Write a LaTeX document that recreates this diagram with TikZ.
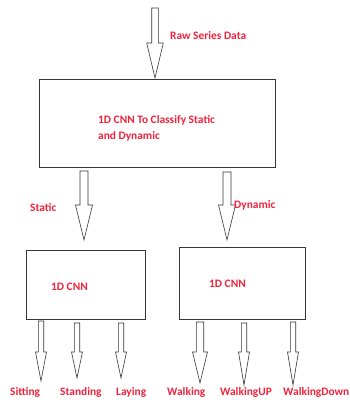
\documentclass[tikz,border=0pt]{standalone}
\usepackage{fontspec}
\setmainfont{Carlito}
\definecolor{lbl}{RGB}{240,35,60}
\definecolor{edge}{RGB}{55,55,55}
\tikzset{
  boxnode/.style={draw=edge, line width=0.9pt, fill=white},
  lbltext/.style={text=lbl, font=\bfseries\fontsize{11.4}{14}\selectfont, inner sep=0pt},
  blockarr/.style={draw=edge, line width=0.6pt, fill=white, line join=miter}
}
% \barrow{cx}{ytop}{yhead}{ytip}{shaft half}{head half}
\newcommand{\barrow}[6]{%
  \draw[blockarr] (#1-#5,#2) -- (#1+#5,#2) -- (#1+#5,#3) -- (#1+#6,#3) -- (#1,#4)
    -- (#1-#6,#3) -- (#1-#5,#3) -- cycle;}
\begin{document}
\begin{tikzpicture}[x=1pt,y=-1pt]
\useasboundingbox (0,0) rectangle (349,400);
% boxes
\draw[boxnode] (39,79) rectangle (275,167);
\draw[boxnode] (26.5,250) rectangle (145,319);
\draw[boxnode] (179,247) rectangle (305,319);
% arrows
\barrow{155}{8}{43}{78}{3.3}{8.3}
\barrow{84}{171}{205}{240}{4}{8.5}
\barrow{227}{172}{205}{240}{4}{8.5}
\barrow{41}{321}{352}{381}{2.7}{5.5}
\barrow{77}{323}{352}{378}{2.7}{5.5}
\barrow{121}{323}{352}{378}{2.7}{5.5}
\barrow{200}{322}{352}{383}{3.7}{7.5}
\barrow{244}{323}{352}{385}{2.7}{5.5}
\barrow{293}{322}{352}{385}{2.7}{5.5}
% labels
\node[lbltext, anchor=west] (raw) at (170,36) {Raw Series Data};
\node[lbltext, anchor=west, align=left] (cls) at (98,128.5) {1D CNN To Classify Static\\[2pt]and Dynamic};
\node[lbltext, anchor=west] (st) at (30,208) {Static};
\node[lbltext, anchor=west] (dy) at (234,205) {Dynamic};
\node[lbltext, anchor=west] (c1) at (51,287) {1D CNN};
\node[lbltext, anchor=west] (c2) at (209,284) {1D CNN};
\node[lbltext, anchor=west] (s1) at (10,392) {Sitting};
\node[lbltext, anchor=west] (s2) at (60,392) {Standing};
\node[lbltext, anchor=west] (s3) at (116,392) {Laying};
\node[lbltext, anchor=west] (d1) at (167,392) {Walking};
\node[lbltext, anchor=west] (d2) at (220,392) {WalkingUP};
\node[lbltext, anchor=west] (d3) at (283,392) {WalkingDown};
\end{tikzpicture}
\end{document}
